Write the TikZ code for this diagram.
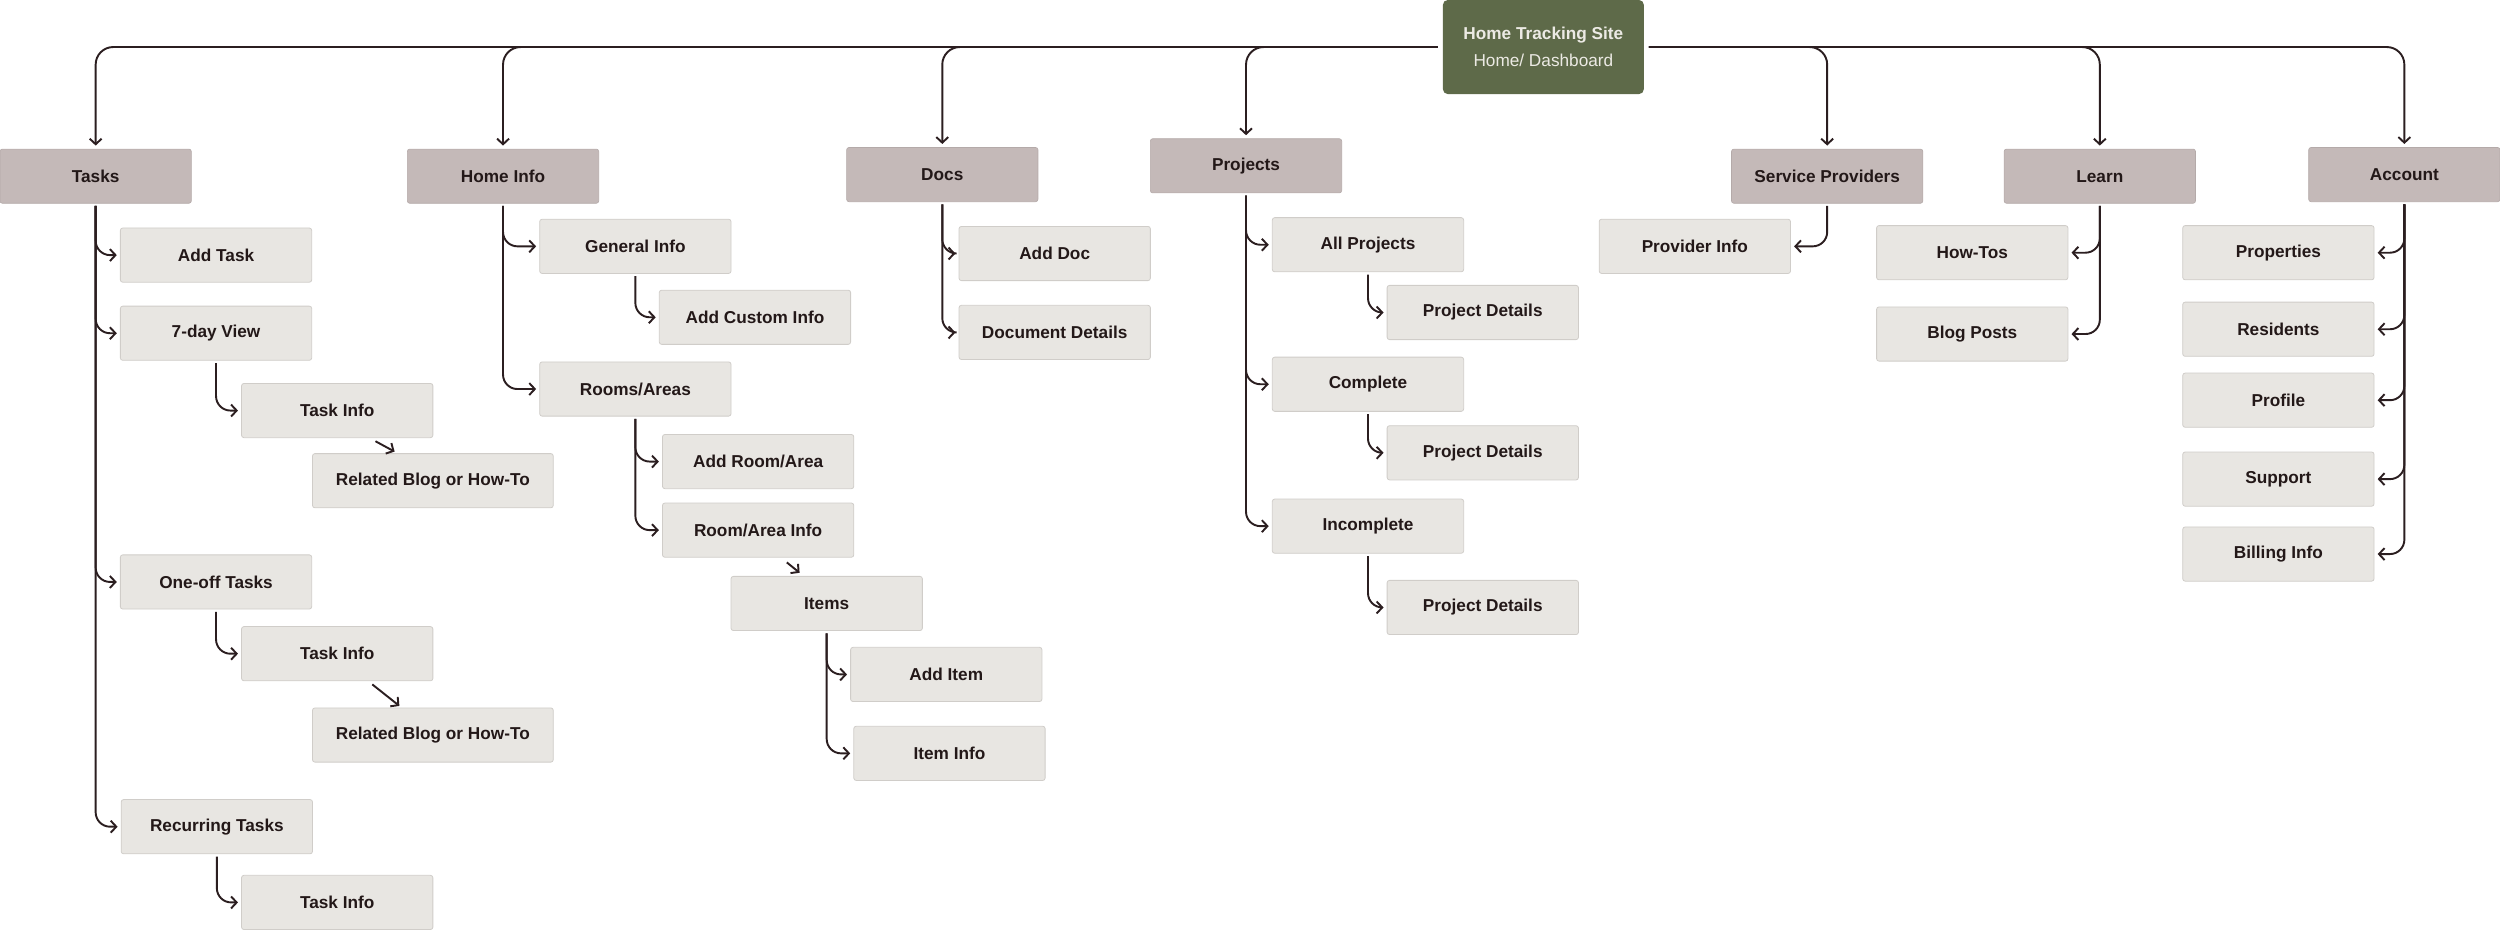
\documentclass[tikz,border=0pt]{standalone}
\usepackage{fontspec}
\setmainfont{Liberation Sans}
\usetikzlibrary{arrows.meta}
\definecolor{rootc}{RGB}{94,106,73}
\definecolor{topc}{RGB}{196,185,184}
\definecolor{subc}{RGB}{232,230,226}
\definecolor{linec}{RGB}{43,30,32}
\definecolor{txtc}{RGB}{35,24,24}
\definecolor{edgec}{RGB}{208,205,201}
\definecolor{rtxt}{RGB}{236,234,228}
\begin{document}
\begin{tikzpicture}[x=1pt,y=-1pt,
 box/.style={rectangle, rounded corners=1.5pt, minimum width=120pt, minimum height=34pt, inner sep=0pt, font=\fontsize{10.8}{13}\selectfont\bfseries, text=txtc},
 topbox/.style={box, fill=topc, draw=topc!92!black, line width=0.4pt},
 subbox/.style={box, fill=subc, draw=edgec, line width=0.5pt},
 wide/.style={minimum width=151pt},
 rootbox/.style={rectangle, rounded corners=3pt, fill=rootc, minimum width=126pt, minimum height=59pt, inner sep=0pt, align=center, text=rtxt, font=\fontsize{10.8}{17}\selectfont},
 conn/.style={draw=linec, line width=1.2pt, rounded corners=9pt, -{Straight Barb[length=3.5pt,width=7.5pt]}, shorten >=2pt, shorten <=1.5pt},
 topconn/.style={conn, rounded corners=11pt, shorten <=3pt},
]
\useasboundingbox (0,0) rectangle (1568,583);

% root
\node[rootbox] (root) at (968,29.5) {\textbf{Home Tracking Site}\\Home/ Dashboard};

% top level
\node[topbox] (tasks) at (60,110.5) {Tasks};
\node[topbox] (homeinfo) at (315.5,110.5) {Home Info};
\node[topbox] (docs) at (591,109.5) {Docs};
\node[topbox] (projects) at (781.5,104) {Projects};
\node[topbox] (sp) at (1146,110.5) {Service Providers};
\node[topbox] (learn) at (1317,110.5) {Learn};
\node[topbox] (account) at (1508,109.5) {Account};

% tasks
\node[subbox] (addtask) at (135.5,160) {Add Task};
\node[subbox] (sday) at (135.5,209) {7-day View};
\node[subbox] (ti1) at (211.5,257.5) {Task Info};
\node[subbox,wide] (rb1) at (271.5,301.5) {Related Blog or How-To};
\node[subbox] (oneoff) at (135.5,365) {One-off Tasks};
\node[subbox] (ti2) at (211.5,410) {Task Info};
\node[subbox,wide] (rb2) at (271.5,461) {Related Blog or How-To};
\node[subbox] (recur) at (136,518.5) {Recurring Tasks};
\node[subbox] (ti3) at (211.5,566) {Task Info};

% home info
\node[subbox] (gi) at (398.5,154.5) {General Info};
\node[subbox] (aci) at (473.5,199) {Add Custom Info};
\node[subbox] (rooms) at (398.5,244) {Rooms/Areas};
\node[subbox] (addroom) at (475.5,289.5) {Add Room/Area};
\node[subbox] (rai) at (475.5,332.5) {Room/Area Info};
\node[subbox] (items) at (518.5,378.5) {Items};
\node[subbox] (additem) at (593.5,423) {Add Item};
\node[subbox] (iteminfo) at (595.5,472.5) {Item Info};

% docs
\node[subbox] (adddoc) at (661.5,159) {Add Doc};
\node[subbox] (docdet) at (661.5,208.5) {Document Details};

% projects
\node[subbox] (allp) at (858,153.5) {All Projects};
\node[subbox] (pd1) at (930,196) {Project Details};
\node[subbox] (complete) at (858,241) {Complete};
\node[subbox] (pd2) at (930,284) {Project Details};
\node[subbox] (incomplete) at (858,330) {Incomplete};
\node[subbox] (pd3) at (930,381) {Project Details};

% service providers
\node[subbox] (provinfo) at (1063,154.5) {Provider Info};

% learn
\node[subbox] (howtos) at (1237,158.5) {How-Tos};
\node[subbox] (blog) at (1237,209.5) {Blog Posts};

% account
\node[subbox] (properties) at (1429,158.5) {Properties};
\node[subbox] (residents) at (1429,206.5) {Residents};
\node[subbox] (profile) at (1429,251) {Profile};
\node[subbox] (support) at (1429,300.5) {Support};
\node[subbox] (billing) at (1429,347.5) {Billing Info};

% top connectors
\draw[topconn] (root.west) -| (tasks.north);
\draw[topconn] (root.west) -| (homeinfo.north);
\draw[topconn] (root.west) -| (docs.north);
\draw[topconn] (root.west) -| (projects.north);
\draw[topconn] (root.east) -| (sp.north);
\draw[topconn] (root.east) -| (learn.north);
\draw[topconn] (root.east) -| (account.north);

% tasks connectors
\draw[conn] (tasks.south) |- (addtask.west);
\draw[conn] (tasks.south) |- (sday.west);
\draw[conn] (tasks.south) |- (oneoff.west);
\draw[conn] (tasks.south) |- (recur.west);
\draw[conn] (sday.south) |- (ti1.west);
\draw[conn] (oneoff.south) |- (ti2.west);
\draw[conn] (recur.south) |- (ti3.west);
\draw[conn, shorten <=0pt, shorten >=0pt] ([xshift=24pt,yshift=-2pt]ti1.south) -- ([xshift=-24pt,yshift=1pt]rb1.north);
\draw[conn, shorten <=0pt, shorten >=0pt] ([xshift=22pt,yshift=-2pt]ti2.south) -- ([xshift=-21pt,yshift=1pt]rb2.north);

% home info connectors
\draw[conn] (homeinfo.south) |- (gi.west);
\draw[conn] (homeinfo.south) |- (rooms.west);
\draw[conn] (gi.south) |- (aci.west);
\draw[conn] (rooms.south) |- (addroom.west);
\draw[conn] (rooms.south) |- (rai.west);
\draw[conn, shorten <=0pt, shorten >=0pt] ([xshift=18pt,yshift=-3pt]rai.south) -- ([xshift=-17pt,yshift=2pt]items.north);
\draw[conn] (items.south) |- (additem.west);
\draw[conn] (items.south) |- (iteminfo.west);

% docs connectors
\draw[conn] (docs.south) |- (adddoc.west);
\draw[conn] (docs.south) |- (docdet.west);

% projects connectors
\draw[conn] (projects.south) |- (allp.west);
\draw[conn] (projects.south) |- (complete.west);
\draw[conn] (projects.south) |- (incomplete.west);
\draw[conn] (allp.south) |- (pd1.west);
\draw[conn] (complete.south) |- (pd2.west);
\draw[conn] (incomplete.south) |- (pd3.west);

% service providers
\draw[conn] (sp.south) |- (provinfo.east);

% learn
\draw[conn] (learn.south) |- (howtos.east);
\draw[conn] (learn.south) |- (blog.east);

% account
\draw[conn] (account.south) |- (properties.east);
\draw[conn] (account.south) |- (residents.east);
\draw[conn] (account.south) |- (profile.east);
\draw[conn] (account.south) |- (support.east);
\draw[conn] (account.south) |- (billing.east);
\end{tikzpicture}
\end{document}
